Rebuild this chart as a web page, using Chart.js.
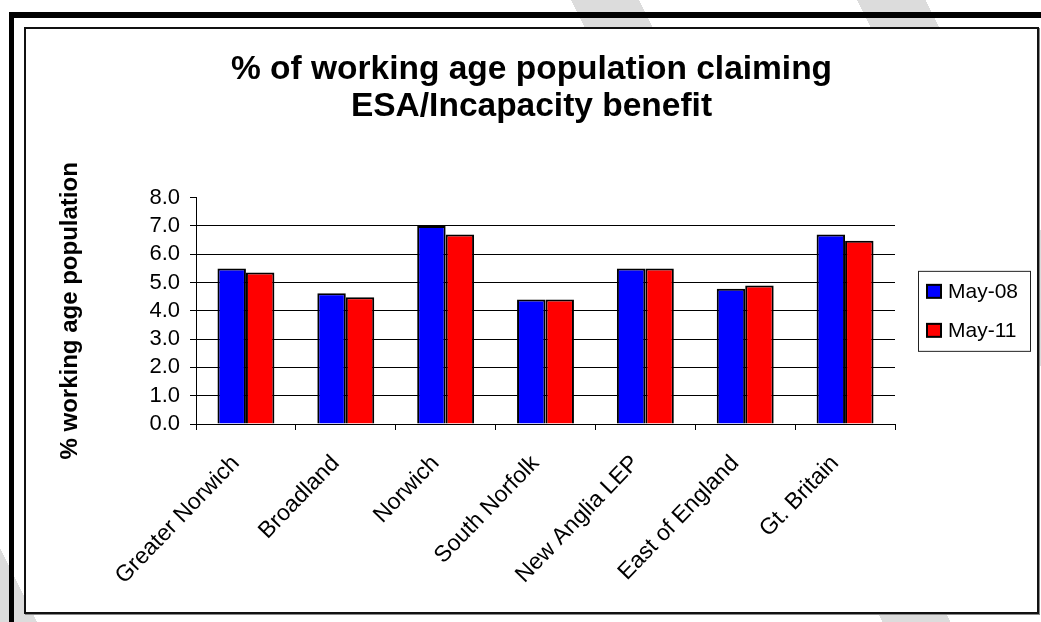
<!DOCTYPE html>
<html>
<head>
<meta charset="utf-8">
<script src="https://cdn.jsdelivr.net/npm/chart.js@4.4.1/dist/chart.umd.min.js"></script>
<style>
  html, body { margin: 0; padding: 0; }
  body {
    width: 1041px; height: 622px; overflow: hidden; position: relative;
    background: linear-gradient(63.4deg,
      #dcdcdc 0 33px, #ffffff 33px 789px, #dcdcdc 789px 850px,
      #ffffff 850px 1045px, #dcdcdc 1045px 1106px, #ffffff 1106px);
  }
  #outer {
    position: absolute; left: 9px; top: 12px; width: 1100px; height: 700px;
    border-top: 6px solid #000; border-left: 5px solid #000;
  }
  #frame {
    position: absolute; left: 24px; top: 27px; width: 1011px; height: 583px;
    border: 2px solid #111; background: #fff; box-shadow: 1px 1px 0 #888;
  }
  canvas { display: block; }
</style>
</head>
<body>
<div id="outer"></div>
<div id="frame"><canvas id="chart" width="1011" height="583"></canvas></div>
<script>
// areas and the two snapshots
const regions = ["Greater Norwich", "Broadland", "Norwich", "South Norfolk", "New Anglia LEP", "East of England", "Gt. Britain"];
const seriesNames = ["May-08", "May-11"];
const may08 = [5.50, 4.62, 7.00, 4.40, 5.50, 4.78, 6.70];
const may11 = [5.36, 4.48, 6.70, 4.40, 5.50, 4.90, 6.48];
const seriesColors = ["#0000ff", "#ff0000"];
const titleLines = ["% of working age population claiming", "ESA/Incapacity benefit"];
const yTitle = "% working age population";

const FONT = "'Liberation Sans', Arial, sans-serif";

// boxed legend to the right of the plot
const boxedLegend = {
  id: "boxedLegend",
  afterDraw(chart) {
    const ctx = chart.ctx;
    const area = chart.chartArea;
    const midY = (area.top + area.bottom) / 2;
    const left = area.right + 23;
    const w = 112, h = 80;
    const top = midY - h / 2;
    ctx.save();
    ctx.fillStyle = "#fff";
    ctx.fillRect(left, top, w, h);
    ctx.strokeStyle = "#222";
    ctx.lineWidth = 1;
    ctx.strokeRect(left + 0.5, top + 0.5, w, h);
    ctx.font = "21px " + FONT;
    ctx.textBaseline = "middle";
    chart.data.datasets.forEach((ds, i) => {
      const cy = midY + (i === 0 ? -19.5 : 19.5);
      ctx.fillStyle = ds.backgroundColor;
      ctx.fillRect(left + 9, cy - 6.5, 14, 13);
      ctx.strokeStyle = "#000";
      ctx.lineWidth = 2;
      ctx.strokeRect(left + 9, cy - 6.5, 14, 13);
      ctx.fillStyle = "#000";
      ctx.fillText(ds.label, left + 30, cy + 1);
    });
    ctx.restore();
  }
};

new Chart(document.getElementById("chart"), {
  type: "bar",
  data: {
    labels: regions,
    datasets: [
      { label: seriesNames[0], data: may08, backgroundColor: seriesColors[0], borderColor: "#000", borderWidth: 2 },
      { label: seriesNames[1], data: may11, backgroundColor: seriesColors[1], borderColor: "#000", borderWidth: 2 }
    ]
  },
  options: {
    responsive: false,
    animation: false,
    devicePixelRatio: 1,
    datasets: { bar: { categoryPercentage: 0.57, barPercentage: 1.0 } },
    layout: { padding: 0 },
    plugins: {
      legend: { display: false },
      tooltip: { enabled: false },
      title: {
        display: true,
        text: titleLines,
        color: "#000",
        font: { family: FONT, size: 33.5, weight: "bold", lineHeight: 1.1 },
        padding: { top: 22, bottom: 73 }
      }
    },
    scales: {
      x: {
        grid: { drawOnChartArea: false, drawTicks: true, tickLength: 6, tickColor: "#000", offset: true },
        border: { color: "#000", width: 1 },
        ticks: {
          minRotation: 46, maxRotation: 46, autoSkip: false, color: "#000",
          padding: 20, labelOffset: -10, font: { family: FONT, size: 23 }
        },
        afterFit(scale) { scale.height = 188; }
      },
      y: {
        min: 0,
        max: 8,
        ticks: { stepSize: 1, autoSkip: false, color: "#000", padding: 10, font: { family: FONT, size: 22 }, callback: v => v.toFixed(1) },
        grid: {
          color: c => (c.tick && c.tick.value === 8 ? "rgba(0,0,0,0)" : "#000"),
          tickColor: "#000",
          tickLength: 6,
          lineWidth: 1
        },
        border: { color: "#000", width: 1 },
        title: {
          display: true,
          text: yTitle,
          color: "#000",
          font: { family: FONT, size: 24, weight: "bold" },
          padding: { top: 30, bottom: 0 }
        },
        afterFit(scale) { scale.width = 170; }
      },
      // empty right-hand strip that leaves room for the legend box
      side: {
        type: "linear",
        position: "right",
        grid: { drawOnChartArea: false, drawTicks: false },
        border: { display: false },
        ticks: { display: false },
        afterFit(scale) { scale.width = 142; }
      }
    }
  },
  plugins: [boxedLegend]
});
</script>
</body>
</html>
